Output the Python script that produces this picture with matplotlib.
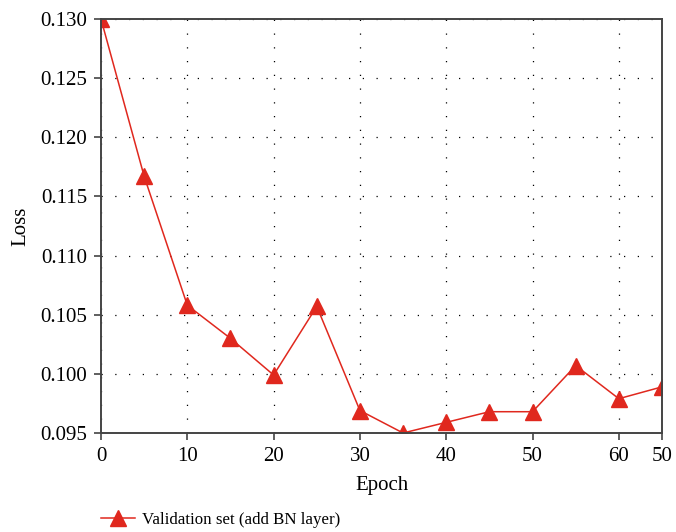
import matplotlib.pyplot as plt

# Данные
epoch = [0, 5, 10, 15, 20, 25, 30, 35, 40, 45, 50, 55, 60, 65]
loss = [0.1300, 0.1167, 0.1058, 0.1030, 0.0999, 0.1057, 0.0969, 0.0950,
        0.0959, 0.0968, 0.0968, 0.1007, 0.0979, 0.0989]
x_ticks = [0, 10, 20, 30, 40, 50, 60, 65]
x_labels = ['0', '10', '20', '30', '40', '50', '60', '50']
y_ticks = [0.095, 0.100, 0.105, 0.110, 0.115, 0.120, 0.125, 0.130]

plt.rcParams['font.family'] = ['Liberation Serif', 'DejaVu Serif']
plt.rcParams['font.size'] = 15

fig = plt.figure(figsize=(6.76, 5.32), dpi=100)
ax = fig.add_axes([101 / 676, 1 - 433 / 532, 561 / 676, 414 / 532])

red = '#e0281e'
ax.plot(epoch, loss, '-', color=red, lw=1.1, marker='^', markersize=11,
        label='Validation set (add BN layer)')

ax.set_xlim(0, 65)
ax.set_ylim(0.095, 0.130)
ax.set_xticks(x_ticks)
ax.set_xticklabels(x_labels)
ax.set_yticks(y_ticks)
ax.set_yticklabels(['%.3f' % v for v in y_ticks])

ax.set_xlabel('Epoch', labelpad=7)
ax.set_ylabel('Loss', labelpad=7)

# Сетка пунктиром
ax.grid(True, color='black', linestyle=(0, (1, 10)), linewidth=0.9)

for s in ax.spines.values():
    s.set_color('#444444')
    s.set_linewidth(1.4)
ax.tick_params(direction='out', length=5, width=1.2, color='#444444',
               top=False, right=False, pad=5)

fig.legend(loc='center left', bbox_to_anchor=(94 / 676, 1 - 520 / 532),
           frameon=False, handlelength=2.0, handletextpad=0.45,
           borderaxespad=0, fontsize=12.2)

fig.savefig('out.png', dpi=100)
